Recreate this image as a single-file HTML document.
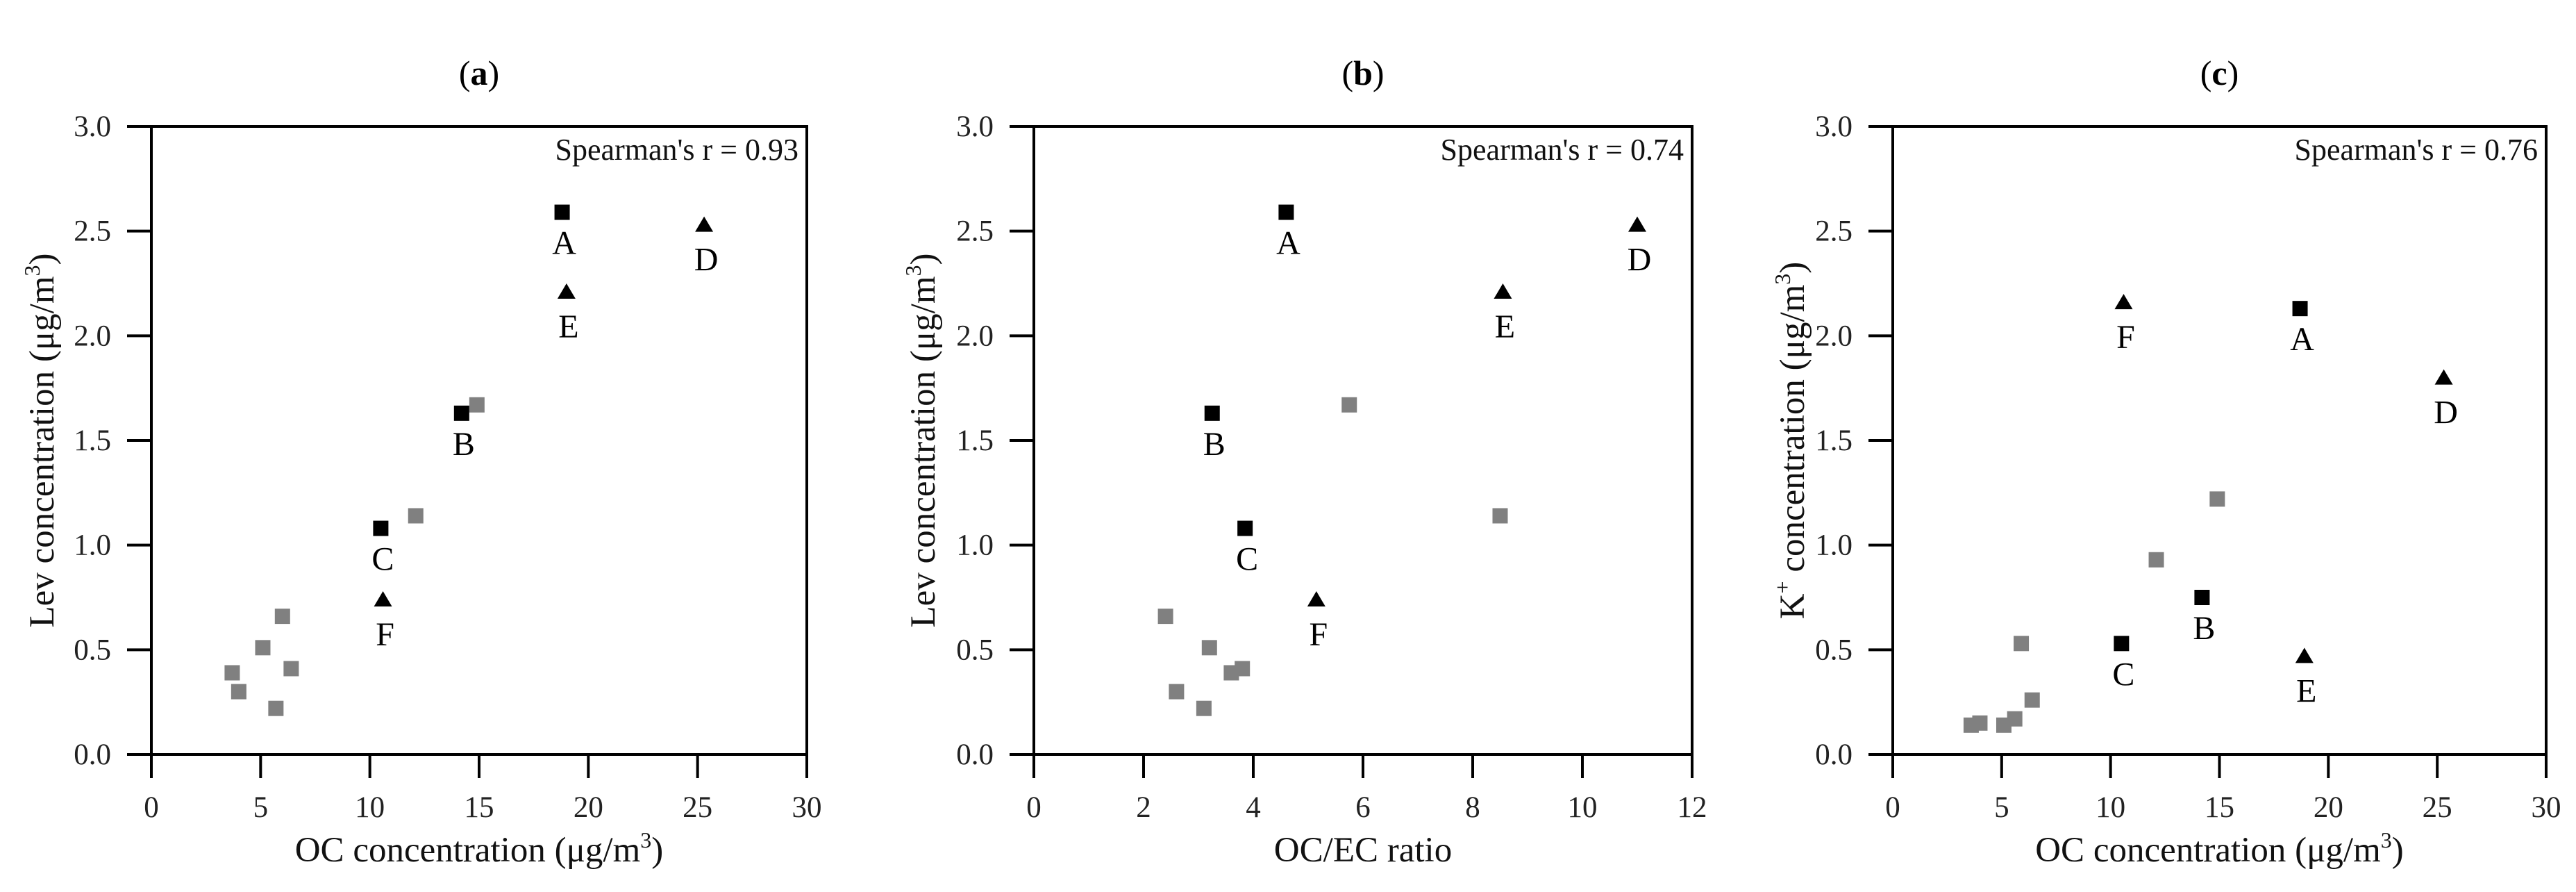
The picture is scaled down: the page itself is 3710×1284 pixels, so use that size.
<!DOCTYPE html>
<html><head><meta charset="utf-8"><style>
html,body{margin:0;padding:0;background:#fff;overflow:hidden;}
svg{display:block;font-family:"Liberation Serif",serif;}
</style></head><body>
<svg id="chart" width="3710" height="1284" viewBox="0 0 3710 1284" xmlns="http://www.w3.org/2000/svg"></svg>
<script>
// Panel (a): Lev vs OC
const aBlackX=[18.8,14.2,10.5];
const aBlackY=[2.59,1.63,1.08];
const aBlackLab=["A","B","C"];
const aTriX=[25.3,19.0,10.6];
const aTriY=[2.53,2.21,0.74];
const aTriLab=["D","E","F"];
const aGrayX=[3.7,4.0,5.1,6.0,5.7,6.4,12.1,14.9];
const aGrayY=[0.39,0.30,0.51,0.66,0.22,0.41,1.14,1.67];
// Panel (b): Lev vs OC/EC
const bBlackX=[4.6,3.25,3.85];
const bBlackY=[2.59,1.63,1.08];
const bTriX=[11.0,8.55,5.15];
const bTriY=[2.53,2.21,0.74];
const bGrayX=[2.4,3.2,2.6,3.1,3.6,3.8,8.5,5.75];
const bGrayY=[0.66,0.51,0.30,0.22,0.39,0.41,1.14,1.67];
// Panel (c): K+ vs OC
const cBlackX=[18.7,14.2,10.5];
const cBlackY=[2.13,0.75,0.53];
const cTriX=[25.3,18.9,10.6];
const cTriY=[1.80,0.47,2.16];
const cGrayX=[3.6,4.0,5.1,5.6,6.4,5.9,12.1,14.9];
const cGrayY=[0.14,0.15,0.14,0.17,0.26,0.53,0.93,1.22];
const yTicks=["0.0","0.5","1.0","1.5","2.0","2.5","3.0"];
const xTicksOC=["0","5","10","15","20","25","30"];
const xTicksRatio=["0","2","4","6","8","10","12"];
const spearman=["0.93","0.74","0.76"];

const NS="http://www.w3.org/2000/svg";
const svg=document.getElementById('chart');
function mk(tag,attrs,parent,text){const e=document.createElementNS(NS,tag);for(const k in attrs)e.setAttribute(k,attrs[k]);if(text!==undefined)e.textContent=text;(parent||svg).appendChild(e);return e;}

const T=182,B=1086;
const panels=[
 {id:"a",L:218,R:1162,xmax:30,xt:xTicksOC,ylab:"Lev",xlab:"oc",ytx:60,
  bx:aBlackX,by:aBlackY,tx:aTriX,ty:aTriY,gx:aGrayX,gy:aGrayY,r:spearman[0]},
 {id:"b",L:1489,R:2437,xmax:12,xt:xTicksRatio,ylab:"Lev",xlab:"ratio",ytx:1329,
  bx:bBlackX,by:bBlackY,tx:bTriX,ty:bTriY,gx:bGrayX,gy:bGrayY,r:spearman[1]},
 {id:"c",L:2726,R:3667,xmax:30,xt:xTicksOC,ylab:"K",xlab:"oc",ytx:2581,
  bx:cBlackX,by:cBlackY,tx:cTriX,ty:cTriY,gx:cGrayX,gy:cGrayY,r:spearman[2]}
];

panels.forEach(p=>{
 const g=mk('g',{});
 
 
 const xs=v=>p.L+(v/p.xmax)*(p.R-p.L);
 const ys=v=>B-(v/3)*(B-T);
 const cx=(p.L+p.R)/2;
 const t=mk('text',{x:cx,y:122,'text-anchor':'middle','font-size':50},g);
 
 
 mk('tspan',{},t,'(');mk('tspan',{'font-weight':'bold'},t,p.id);mk('tspan',{},t,')');
 const fr=mk('rect',{x:p.L,y:T,width:p.R-p.L,height:B-T,fill:'none',stroke:'#000','stroke-width':4},g);
 
 
 yTicks.forEach(lab=>{
  const y=ys(parseFloat(lab));
  const tk=mk('line',{x1:p.L-35,x2:p.L,y1:y,y2:y,stroke:'#000','stroke-width':4},g);
  
  
  const tl=mk('text',{x:p.L-58,y:y+14,'text-anchor':'end','font-size':43,fill:'#222'},g,lab);
  
  
 });
 p.xt.forEach(lab=>{
  const x=xs(parseFloat(lab));
  const tk=mk('line',{x1:x,x2:x,y1:B,y2:B+34,stroke:'#000','stroke-width':4},g);
  
  
  const tl=mk('text',{x:x,y:1176,'text-anchor':'middle','font-size':43,fill:'#222'},g,lab);
  
  
 });
 const xt=mk('text',{x:cx,y:1240,'text-anchor':'middle','font-size':51,fill:'#111'},g);
 
 
 if(p.xlab==="oc"){mk('tspan',{},xt,'OC concentration (μg/m');mk('tspan',{'font-size':32,dy:-20},xt,'3');mk('tspan',{dy:20},xt,')');}
 else xt.textContent='OC/EC ratio';
 const yc=(T+B)/2;
 const yt=mk('text',{x:0,y:0,'text-anchor':'middle','font-size':51,fill:'#111',transform:`translate(${p.ytx+17},${yc}) rotate(-90)`},g);
 
 
 if(p.ylab==="Lev"){mk('tspan',{},yt,'Lev concentration (μg/m');mk('tspan',{'font-size':32,dy:-20},yt,'3');mk('tspan',{dy:20},yt,')');}
 else{mk('tspan',{},yt,'K');mk('tspan',{'font-size':32,dy:-20},yt,'+');mk('tspan',{dy:20},yt,' concentration (μg/m');mk('tspan',{'font-size':32,dy:-20},yt,'3');mk('tspan',{dy:20},yt,')');}
 const sp=mk('text',{x:p.R-12,y:230,'text-anchor':'end','font-size':44,fill:'#111'},g,"Spearman's r = "+p.r);
 
 
 p.gx.forEach((v,i)=>{
  const s=mk('rect',{x:xs(v)-11,y:ys(p.gy[i])-11,width:22,height:22,fill:'#808080'},g);
  
  
 });
 p.bx.forEach((v,i)=>{
  const x=xs(v),y=ys(p.by[i]);
  const s=mk('rect',{x:x-11,y:y-11,width:22,height:22,fill:'#000'},g);
  
  
  const l=mk('text',{x:x+3,y:y+60,'text-anchor':'middle','font-size':48},g,aBlackLab[i]);
  
  
 });
 p.tx.forEach((v,i)=>{
  const x=xs(v),y=ys(p.ty[i]);
  const s=mk('polygon',{points:`${x-13},${y+10} ${x+13},${y+10} ${x},${y-12}`,fill:'#000'},g);
  
  
  const l=mk('text',{x:x+3,y:y+66,'text-anchor':'middle','font-size':48},g,aTriLab[i]);
  
  
 });
});
</script>
</body></html>
